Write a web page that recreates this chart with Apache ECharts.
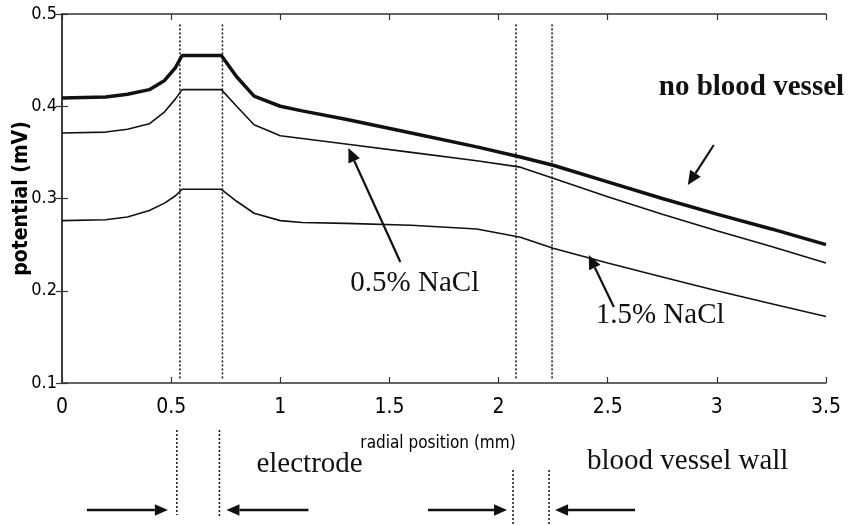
<!DOCTYPE html>
<html>
<head>
<meta charset="utf-8">
<title>potential vs radial position</title>
<script src="https://cdn.jsdelivr.net/npm/echarts@6/dist/echarts.min.js"></script>
<style>
    html, body { margin: 0; padding: 0; background: #fff; }
    #main { width: 848px; height: 525px; }
</style>
</head>
<body>
<div id="main"></div>
<script>
var radial = [0, 0.2, 0.3, 0.4, 0.47, 0.52, 0.55, 0.73, 0.8, 0.88, 1.0, 1.1, 1.3, 1.6, 1.9, 2.1, 2.25, 2.5, 2.75, 3.0, 3.25, 3.5];
// potential (mV)
var noVessel = [0.409, 0.410, 0.413, 0.418, 0.428, 0.442, 0.455, 0.455, 0.432, 0.411, 0.400, 0.395, 0.386, 0.371, 0.356, 0.345, 0.336, 0.318, 0.300, 0.283, 0.267, 0.250];
var nacl05 = [0.371, 0.372, 0.375, 0.381, 0.394, 0.408, 0.418, 0.418, 0.400, 0.380, 0.368, 0.365, 0.359, 0.350, 0.341, 0.334, 0.322, 0.302, 0.283, 0.265, 0.248, 0.230];
var nacl15 = [0.276, 0.277, 0.280, 0.287, 0.295, 0.303, 0.310, 0.310, 0.297, 0.284, 0.276, 0.274, 0.273, 0.271, 0.267, 0.258, 0.246, 0.230, 0.215, 0.200, 0.186, 0.172];
// boundaries (mm)
var electrodeEdges = [0.54, 0.735];
var vesselWallEdges = [2.08, 2.245];

var ink = '#111';
var tickFont = "'DejaVu Sans Condensed', 'Liberation Sans Narrow', 'Arial Narrow', sans-serif";
var serif = "'Liberation Serif', 'Times New Roman', serif";

function pairs(xs, ys) {
    var res = [];
    for (var i = 0; i < xs.length; i++) {
        res.push([xs[i], ys[i]]);
    }
    return res;
}

// dotted boundary lines inside the plot
function edgeSeries(x) {
    return {
        type: 'line',
        data: [[x, 0.105], [x, 0.489]],
        symbol: 'none',
        silent: true,
        lineStyle: { color: ink, width: 1.5, type: [2, 2] }
    };
}

var myChart = echarts.init(document.getElementById('main'));

var axisBase = {
    axisLine: { show: true, lineStyle: { color: '#333', width: 1.5 } },
    axisTick: { show: true, inside: true, length: 6, lineStyle: { color: '#333', width: 1.2 } },
    splitLine: { show: false }
};

var option = {
    animation: false,
    backgroundColor: '#fff',
    grid: { left: 62, top: 14, right: 22, bottom: 142, containLabel: false, outerBoundsMode: 'none' },
    xAxis: [
        Object.assign({
            type: 'value', min: 0, max: 3.5, interval: 0.5, position: 'bottom',
            name: 'radial position (mm)',
            nameLocation: 'middle',
            nameGap: 52,
            nameMoveOverlap: false,
            nameTextStyle: { fontFamily: tickFont, fontSize: 17, color: '#000', padding: [0, 12, 0, 0] },
            axisLabel: { margin: 14, fontFamily: tickFont, fontSize: 21, color: '#000' }
        }, axisBase),
        Object.assign({
            type: 'value', min: 0, max: 3.5, interval: 0.5, position: 'top',
            axisLabel: { show: false }
        }, axisBase)
    ],
    yAxis: [
        Object.assign({
            type: 'value', min: 0.1, max: 0.5, interval: 0.1, position: 'left',
            name: 'potential (mV)',
            nameLocation: 'middle',
            nameGap: 30,
            nameMoveOverlap: false,
            nameTextStyle: { fontFamily: tickFont, fontSize: 21, fontWeight: 'bold', color: '#000' },
            axisLabel: { margin: 5, fontFamily: tickFont, fontSize: 18, color: '#000' }
        }, axisBase),
        Object.assign({
            type: 'value', min: 0.1, max: 0.5, interval: 0.1, position: 'right',
            axisLabel: { show: false }
        }, axisBase)
    ],
    series: [
        {
            name: 'no blood vessel', type: 'line', symbol: 'none',
            data: pairs(radial, noVessel),
            lineStyle: { color: ink, width: 3.5 }
        },
        {
            name: '0.5% NaCl', type: 'line', symbol: 'none',
            data: pairs(radial, nacl05),
            lineStyle: { color: ink, width: 1.6 }
        },
        {
            name: '1.5% NaCl', type: 'line', symbol: 'none',
            data: pairs(radial, nacl15),
            lineStyle: { color: ink, width: 1.6 }
        },
        edgeSeries(electrodeEdges[0]),
        edgeSeries(electrodeEdges[1]),
        edgeSeries(vesselWallEdges[0]),
        edgeSeries(vesselWallEdges[1])
    ]
};

myChart.setOption(option);

// annotations: arrows and labels
function px(x, y) {
    return myChart.convertToPixel({ gridIndex: 0 }, [x, y]);
}

function arrow(from, tip, w, head) {
    var dx = tip[0] - from[0], dy = tip[1] - from[1];
    var len = Math.sqrt(dx * dx + dy * dy);
    var ux = dx / len, uy = dy / len;
    var bx = tip[0] - ux * head, by = tip[1] - uy * head;
    var nx = -uy * head * 0.45, ny = ux * head * 0.45;
    return [
        { type: 'polyline', silent: true, shape: { points: [from, [bx, by]] }, style: { stroke: ink, lineWidth: w, fill: null } },
        { type: 'polygon', silent: true, shape: { points: [tip, [bx + nx, by + ny], [bx - nx, by - ny]] }, style: { fill: ink } }
    ];
}

function label(text, p, bold) {
    return {
        type: 'text', silent: true, x: p[0], y: p[1],
        style: {
            text: text, fill: ink, font: (bold ? 'bold ' : '') + '29px ' + serif,
            textAlign: 'left', textVerticalAlign: 'middle'
        }
    };
}

function dotted(x, y1, y2) {
    return {
        type: 'line', silent: true,
        shape: { x1: x, y1: y1, x2: x, y2: y2 },
        style: { stroke: ink, lineWidth: 1.5, lineDash: [2, 2] }
    };
}

var g = [];
g.push(label('no blood vessel', px(2.734, 0.4198), true));
g.push(label('0.5% NaCl', px(1.321, 0.2084), false));
g.push(label('1.5% NaCl', px(2.445, 0.1737), false));
g = g.concat(arrow(px(2.986, 0.358), px(2.867, 0.3146), 2.2, 14));
g = g.concat(arrow(px(1.550, 0.2312), px(1.312, 0.3547), 2.2, 14));
g = g.concat(arrow(px(2.528, 0.1824), px(2.413, 0.2388), 2.2, 14));

// below the axis: boundary markers
var e0 = px(electrodeEdges[0], 0.1)[0] - 3;
var e1 = px(electrodeEdges[1], 0.1)[0] - 3;
var v0 = px(vesselWallEdges[0], 0.1)[0] - 3;
var v1 = px(vesselWallEdges[1], 0.1)[0] - 3;
g.push(dotted(e0, 430, 515), dotted(e1, 430, 518));
g.push(dotted(v0, 470, 525), dotted(v1, 470, 525));
g = g.concat(arrow([e0 - 90, 510], [e0 - 9, 510], 2.5, 13));
g = g.concat(arrow([e1 + 89, 510], [e1 + 7, 510], 2.5, 13));
g = g.concat(arrow([v0 - 85, 510], [v0 - 6, 510], 2.5, 13));
g = g.concat(arrow([v1 + 86, 510], [v1 + 6, 510], 2.5, 13));
g.push(label('electrode', [e1 + 37, 464], false));
g.push(label('blood vessel wall', [v1 + 38, 461], false));

myChart.setOption({ graphic: g });

window.addEventListener('resize', function () {
    myChart.resize();
});
</script>
</body>
</html>
